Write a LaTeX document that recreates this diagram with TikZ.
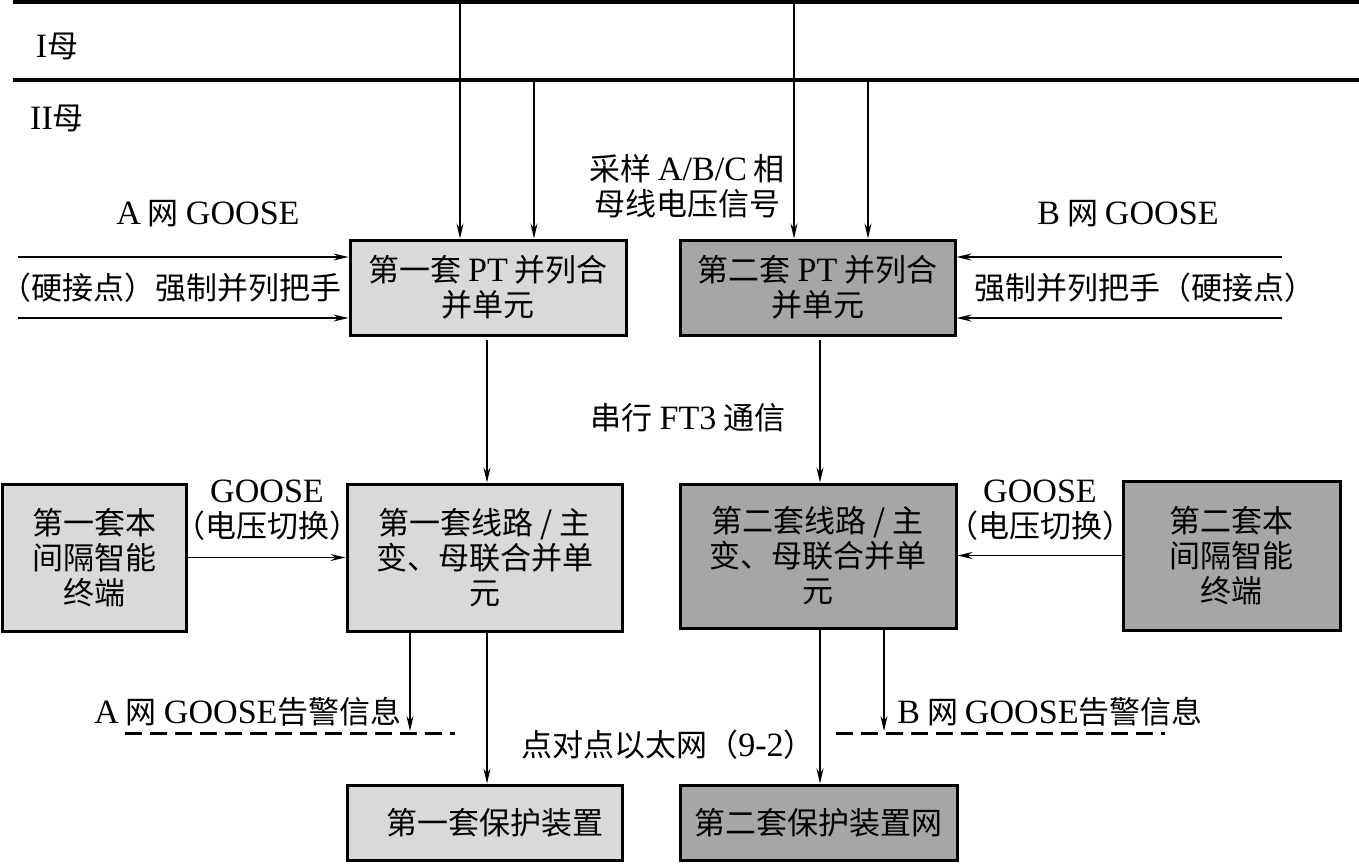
\documentclass[tikz,border=0pt]{standalone}
\usepackage{fontspec}
\setmainfont{Noto Sans CJK SC}
\newfontfamily\lat[Scale=1.1]{Liberation Serif}
\newcommand{\la}[1]{{\lat #1}}
\usetikzlibrary{arrows.meta}
\definecolor{lightfill}{gray}{0.85}
\definecolor{darkfill}{gray}{0.65}
\begin{document}
\begin{tikzpicture}[x=1pt,y=-1pt,
  every node/.style={font=\fontsize{31}{35}\selectfont, align=center, inner sep=0pt},
  boxlight/.style={draw, line width=3pt, fill=lightfill},
  boxdark/.style={draw, line width=3pt, fill=darkfill},
  arr/.style={line width=1.5pt, -{Stealth[length=15pt,width=7pt,inset=5pt]}},
  bus/.style={line width=3.5pt},
  alarm/.style={line width=3pt, dash pattern=on 17pt off 8pt}]
\useasboundingbox (0,0) rectangle (1359,863);

% buses
\coordinate (b1s) at (13,1.75);
\coordinate (b1e) at (1359,1.75);
\coordinate (b2s) at (13,80);
\coordinate (b2e) at (1359,80);
\draw[bus] (b1s) -- (b1e);
\draw[bus] (b2s) -- (b2e);
\node (lb1) at (57,46) {\la{I}母};
\node (lb2) at (57,118) {\la{II}母};

% boxes
\node[boxlight, minimum width=276pt, minimum height=95pt] (PT1) at (488,287.5) {第一套 \la{PT} 并列合\\并单元};
\node[boxdark, minimum width=275pt, minimum height=95pt] (PT2) at (817.5,287.5) {第二套 \la{PT} 并列合\\并单元};
\node[boxlight, minimum width=184pt, minimum height=147pt] (IED1) at (94,557.5) {第一套本\\间隔智能\\终端};
\node[boxlight, minimum width=275pt, minimum height=147pt] (MU1) at (484.5,557.5) {第一套线路 / 主\\变、母联合并单\\元};
\node[boxdark, minimum width=276pt, minimum height=144pt] (MU2) at (818,556) {第二套线路 / 主\\变、母联合并单\\元};
\node[boxdark, minimum width=217pt, minimum height=149pt] (IED2) at (1231.5,555.5) {第二套本\\间隔智能\\终端};
\node[boxlight, minimum width=275pt, minimum height=75pt] (P1) at (484.5,822.5) {\hspace*{20pt}第一套保护装置};
\node[boxdark, minimum width=277pt, minimum height=75pt] (P2) at (818.5,822.5) {第二套保护装置网};

% bus taps
\coordinate (t1) at (460,0);
\coordinate (t2) at (534,80);
\coordinate (t3) at (794,0);
\coordinate (t4) at (868,80);
\draw[arr] (t1) -- (t1 |- PT1.north);
\draw[arr] (t2) -- (t2 |- PT1.north);
\draw[arr] (t3) -- (t3 |- PT2.north);
\draw[arr] (t4) -- (t4 |- PT2.north);

% forced parallel inputs
\coordinate (la1) at (18,257);
\coordinate (la2) at (18,318);
\coordinate (ra1) at (1282,257);
\coordinate (ra2) at (1282,318);
\draw[arr] (la1) -- (la1 -| PT1.west);
\draw[arr] (la2) -- (la2 -| PT1.west);
\draw[arr] (ra1) -- (ra1 -| PT2.east);
\draw[arr] (ra2) -- (ra2 -| PT2.east);
\node (tA) at (208,214) {\la{A} 网 \la{GOOSE}};
\node (tB) at (1128,214) {\la{B} 网 \la{GOOSE}};
\node (tL) at (171,288) {（硬接点）强制并列把手};
\node (tR) at (1145,288) {强制并列把手（硬接点）};
\node (tS) at (687,186) {采样 \la{A/B/C} 相\\母线电压信号};

% FT3
\coordinate (f1) at (487,340);
\coordinate (f2) at (820,340);
\draw[arr] (f1) -- (f1 |- MU1.north);
\draw[arr] (f2) -- (f2 |- MU2.north);
\node (tF) at (688,418) {串行 \la{FT3} 通信};

% GOOSE voltage switching
\draw[arr] (IED1.east) -- (IED1.east -| MU1.west);
\draw[arr] (IED2.west) -- (IED2.west -| MU2.east);
\node (tG1) at (267,510) {\la{GOOSE}\\（电压切换）};
\node (tG2) at (1040,510) {\la{GOOSE}\\（电压切换）};

% alarms
\coordinate (g1) at (410,731);
\coordinate (g2) at (884,731);
\draw[arr] (g1 |- MU1.south) -- (g1);
\draw[arr] (g2 |- MU2.south) -- (g2);
\coordinate (d1s) at (125,733);
\coordinate (d1e) at (455,733);
\coordinate (d2s) at (836,733);
\coordinate (d2e) at (1165,733);
\draw[alarm] (d1s) -- (d1e);
\draw[alarm] (d2s) -- (d2e);
\node (tA2) at (248,712) {\la{A} 网 \la{GOOSE}告警信息};
\node (tB2) at (1050,712) {\la{B} 网 \la{GOOSE}告警信息};

% point to point
\coordinate (p1) at (487,631);
\coordinate (p2) at (820,628);
\draw[arr] (p1) -- (p1 |- P1.north);
\draw[arr] (p2) -- (p2 |- P2.north);
\node (tP) at (668,745) {点对点以太网（\la{9-2}）};
\end{tikzpicture}
\end{document}
